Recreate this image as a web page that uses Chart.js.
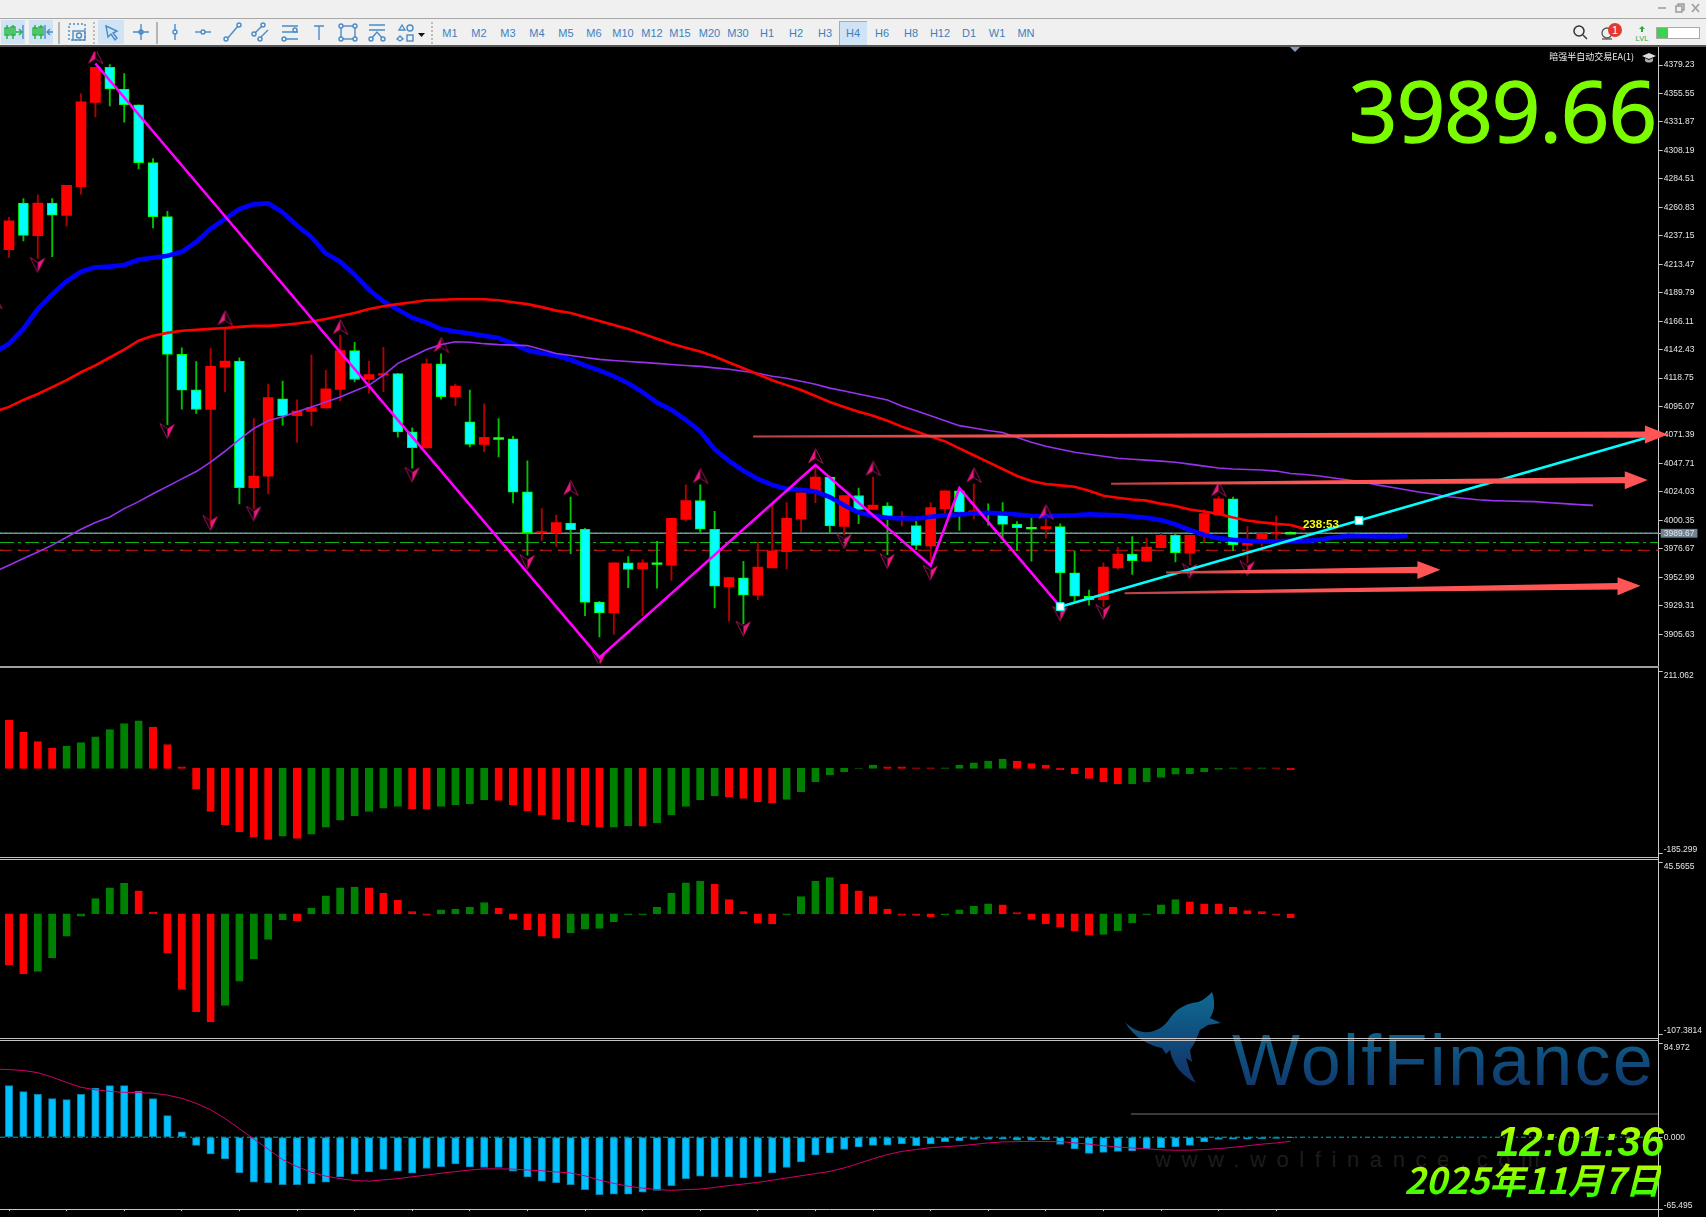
<!DOCTYPE html>
<html>
<head>
<meta charset="utf-8">
<title>XAUUSD H4</title>
<script src="https://cdn.jsdelivr.net/npm/chart.js@4"></script>
<style>
  html, body { margin: 0; padding: 0; background: #000; width: 1706px; height: 1217px; overflow: hidden; }
  body { position: relative; font-family: "Liberation Sans", sans-serif; }
  canvas.pane { position: absolute; left: 0; z-index: 3; }
  .abs { position: absolute; }
  #titlebar { left: 0; top: 0; width: 1706px; height: 18px; background: #f0f0f0; border-bottom: 1px solid #a8a8a8; }
  #toolbar { left: 0; top: 19px; width: 1706px; height: 26px; background: #f0f0f0; border-bottom: 2px solid #555; }
  .tf { position: absolute; top: 27px; width: 28px; text-align: center; color: #3d80bd; font-size: 11px; line-height: 13px; }
  .on { position: absolute; background: #cfe3f5; }
  .vsep { position: absolute; top: 22px; height: 22px; width: 2px; background: #b4b4b4; }
  .dsep { position: absolute; top: 22px; height: 22px; border-left: 2px dotted #bbb; }
  .hline { position: absolute; left: 0; width: 1659px; z-index: 4; }
  #bigprice { right: 50px; top: 60px; color: #7cfc00; font: 85px/98px "Open Sans", sans-serif; letter-spacing: -1px; z-index: 5;
    -webkit-text-stroke: 1.5px #7cfc00; paint-order: stroke; stroke-linejoin: round; }
  #ea { right: 72px; top: 51px; color: #eee; font: 9px/12px "Noto Sans CJK SC", sans-serif; z-index: 5; }
  #clock, #date { font-weight: bold; font-style: italic; z-index: 5; white-space: nowrap;
    background: linear-gradient(#d0ff00, #2cff00); -webkit-background-clip: text; background-clip: text; color: transparent; }
  #clock { right: 42px; top: 1121px; font: italic bold 42px/42px "Liberation Sans", sans-serif; }
  #date { right: 45px; top: 1158px; font: italic bold 36px/40px "Noto Sans CJK SC", sans-serif; }
  #wm { left: 1232px; top: 1020px; font: 72px/80px "Liberation Sans", sans-serif; letter-spacing: 2.2px; z-index: 1;
    background: linear-gradient(#0e6a92, #122f66); -webkit-background-clip: text; background-clip: text; color: transparent; }
  #wmurl { left: 1155px; top: 1148px; color: #1c1c1c; font: 22px/24px "Liberation Sans", sans-serif; letter-spacing: 10.6px; z-index: 1; white-space: nowrap; }
</style>
</head>
<body>
<div id="titlebar" class="abs"></div>
<div id="toolbar" class="abs"></div>

<svg class="abs" style="left:1655px;top:0;z-index:2" width="50" height="18" stroke="#9a9a9a" stroke-width="1.5" fill="none">
  <path d="M3 8h8"/><rect x="21" y="6" width="6" height="6"/><path d="M23 6V4h6v6h-2"/><path d="M37 4l7 8M44 4l-7 8"/>
</svg>

<div class="on" style="left:1px;top:20px;width:24px;height:24px"></div>
<div class="on" style="left:29px;top:20px;width:24px;height:24px"></div>
<div class="on" style="left:98px;top:20px;width:26px;height:24px"></div>
<div class="on" style="left:839px;top:21px;width:27px;height:23px;border-top:1px solid #aaa;border-left:1px solid #aaa"></div>
<div class="vsep" style="left:58px"></div>
<div class="dsep" style="left:93px"></div>
<div class="vsep" style="left:156px"></div>
<div class="dsep" style="left:431px"></div>

<svg class="abs" style="left:0;top:19px;z-index:2" width="440" height="27" fill="none" stroke="#4a8cc6" stroke-width="1.4">
  <g stroke="#1fb53a"><path d="M7 6v14M13 6v14"/><rect x="5" y="9" width="4" height="7"/><rect x="11" y="8" width="4" height="8"/><path d="M16 13h5M19 10l3 3-3 3"/></g>
  <path d="M23 6v14"/>
  <g stroke="#1fb53a"><path d="M35 6v14M41 6v14"/><rect x="33" y="9" width="4" height="7"/><rect x="39" y="8" width="4" height="8"/></g>
  <path d="M45 6v14M53 13h-6M50 10l-3 3 3 3"/>
  <rect x="69" y="5" width="16" height="16" stroke-dasharray="2 2"/><rect x="73" y="12" width="12" height="9"/><circle cx="79" cy="16.5" r="2.5"/>
  <path d="M106 7l11 5-4 2 4 5-2 2-4-6-3 3z"/>
  <path d="M133 13h16M141 5v16"/><circle cx="141" cy="13" r="2"/>
  <path d="M175 5v16"/><circle cx="175" cy="13" r="2" fill="#f0f0f0"/>
  <path d="M195 13h16"/><circle cx="203" cy="13" r="2" fill="#f0f0f0"/>
  <path d="M227 20l11-13"/><circle cx="226" cy="20" r="2" fill="#f0f0f0"/><circle cx="239" cy="6" r="2" fill="#f0f0f0"/>
  <path d="M254 15l9-9M258 21l10-10"/><circle cx="254" cy="15" r="2" fill="#f0f0f0"/><circle cx="263" cy="6" r="2" fill="#f0f0f0"/><circle cx="260" cy="20" r="2" fill="#f0f0f0"/>
  <path d="M282 7h16M282 13h16M282 20h16"/><circle cx="295" cy="11" r="2" fill="#f0f0f0"/><circle cx="284" cy="20" r="2" fill="#f0f0f0"/>
  <path d="M314 7h10M319 7v14"/>
  <rect x="341" y="7" width="14" height="13"/><circle cx="341" cy="7" r="2" fill="#f0f0f0"/><circle cx="355" cy="7" r="2" fill="#f0f0f0"/><circle cx="341" cy="20" r="2" fill="#f0f0f0"/><circle cx="355" cy="20" r="2" fill="#f0f0f0"/>
  <path d="M369 6h16M369 11h16M371 20l6-7 6 7"/><circle cx="371" cy="20" r="2" fill="#f0f0f0"/><circle cx="383" cy="20" r="2" fill="#f0f0f0"/>
  <path d="M399 11l3-5 3 5zM397 20l3-3 3 3-3 2z"/><circle cx="410" cy="9" r="3"/><rect x="407" y="16" width="6" height="6"/>
  <path d="M418 14h7l-3.5 4z" fill="#111" stroke="none"/>
</svg>

<svg class="abs" style="left:1570px;top:19px;z-index:2" width="136" height="27" fill="none">
  <circle cx="9" cy="12" r="5" stroke="#333" stroke-width="1.5"/><path d="M13 16l4 4" stroke="#333" stroke-width="1.5"/>
  <circle cx="37" cy="14" r="5" stroke="#555" stroke-width="1.3"/><path d="M32 20h10" stroke="#555" stroke-width="1.3"/>
  <circle cx="45" cy="11" r="7" fill="#e4392a"/>
  <text x="45" y="15" font-size="11" fill="#fff" text-anchor="middle" font-family="Liberation Sans">1</text>
  <path d="M72 7l3 3h-2v3h-2v-3h-2z" fill="#27a844"/>
  <text x="72" y="22" font-size="7.5" fill="#27a844" text-anchor="middle" font-family="Liberation Sans">LVL</text>
  <rect x="86.500" y="8.500" width="43" height="11" fill="#fff" stroke="#aaa"/><rect x="87" y="9" width="11" height="10" fill="#3ed151"/>
</svg>

<!-- watermark sits behind the transparent canvases -->
<svg class="abs" style="left:1120px;top:988px;z-index:1" width="110" height="104">
  <defs><linearGradient id="wing" x1="0" y1="0" x2="0" y2="1"><stop offset="0" stop-color="#0e6a92"/><stop offset="1" stop-color="#122f66"/></linearGradient></defs>
  <path fill="url(#wing)" d="M5 34C20 50 40 46 50 30C58 18 70 15 78 14C84 12 88 8 92 4C96 16 94 24 90 30L101 35L88 37L80 42L74 56L70 62L72 74L66 70L70 84L76 95C62 88 52 76 50 62L46 66L42 60C30 58 14 50 5 34Z"/>
</svg>
<div id="wm" class="abs">WolfFinance</div>
<div id="wmurl" class="abs">www.wolfinance.com</div>
<div class="abs" style="left:1131px;top:1113px;width:528px;height:2px;background:#3a3a3a;z-index:1"></div>

<div class="abs" style="left:1658px;top:47px;width:1px;height:1170px;background:#c8c8c8;z-index:2"></div>
<div class="abs" style="left:1290px;top:47px;width:0;height:0;border-left:5px solid transparent;border-right:5px solid transparent;border-top:5px solid #8a9bb0;z-index:5"></div>

<canvas class="pane" id="mainPane" width="1706" height="621" style="top:47px"></canvas>
<canvas class="pane" id="aoPane" width="1706" height="197" style="top:664px"></canvas>
<canvas class="pane" id="acPane" width="1706" height="187" style="top:855px"></canvas>
<canvas class="pane" id="macdPane" width="1706" height="181" style="top:1036px"></canvas>

<div class="hline" style="top:666px;height:2px;background:#a0a0a0"></div>
<div class="hline" style="top:857px;height:1px;background:#c4c4c4"></div>
<div class="hline" style="top:859px;height:1px;background:#c4c4c4"></div>
<div class="hline" style="top:1038px;height:1px;background:#c4c4c4"></div>
<div class="hline" style="top:1040px;height:1px;background:#c4c4c4"></div>

<div id="bigprice" class="abs">3989.66</div>
<div id="ea" class="abs">暗强半自动交易EA(1)</div>
<svg class="abs" style="left:1642px;top:52px;z-index:5" width="14" height="12"><path d="M0 4l7-3 7 3-7 3z" fill="#ddd"/><path d="M3 6v3c2 2 6 2 8 0V6l-4 2z" fill="#aaa"/></svg>
<div id="clock" class="abs">12:01:36</div>
<div id="date" class="abs">2025年11月7日</div>

<script>
// chart data. bar index 0 is the leftmost whole candle
const timeframes = ['M1','M2','M3','M4','M5','M6','M10','M12','M15','M20','M30','H1','H2','H3','H4','H6','H8','H12','D1','W1','MN'];
const timeframeCenters = [450,479,508,537,566,594,623,652,680,709.5,738,767,796,825,853,882,911,940,969,997,1026];

const opens = [4225.7,4264.3,4237.2,4264.3,4254.2,4278,4348.1,4377.4,4359.3,4346.2,4298,4253.1,4138.6,4109,4092.6,4127.9,4132.9,4027.5,4037.1,4101.6,4087.4,4091,4094,4109.4,4141.6,4117.6,4121.1,4122.5,4074,4060.6,4130.7,4103.3,4082.3,4063.6,4068.5,4068.3,4024.2,3989.9,3989.7,3998.1,3993,3932.4,3923.4,3965,3960.1,3964.4,3963.1,4001.2,4016.8,3993,3945.3,3952.5,3938.2,3960.9,3974.3,4001.4,4023.4,4036.5,3995.4,4021.1,4009.4,4012.4,4002,3996,3979.2,4010.2,4025,4006.9,4006.1,4004.7,3997.3,3994,3993.5,3995.2,3956.8,3937.3,3934.4,3960.9,3972.4,3966.4,3977.6,3988,3973.2,3987.4,4005,4018.4,3979.8,3984.7,3989.1,3989.66];
const highs = [4252.5,4268.2,4271.2,4268.2,4279.1,4355.2,4377.4,4379.6,4372.2,4346.2,4301.3,4257.5,4143.9,4132.4,4143.3,4160.8,4135.7,4085,4113.7,4116.2,4100.6,4138.1,4125.2,4154.8,4148.5,4132.9,4144.4,4122.7,4077.3,4134.8,4138.9,4113.7,4108.8,4097.3,4085,4070.4,4049.9,4010.2,4004.7,4019.8,3993.8,3933,3965,3970.2,3967.7,3982.9,4002,4029.9,4029.9,4008,3952.7,3966.4,3982.3,4012.4,4015.1,4023.4,4045.8,4036.5,4021.1,4027.2,4036.5,4015.1,4007.7,3999.5,4015.1,4025,4026.6,4030.7,4014.1,4015.1,3999.3,4004.2,4001.4,3997.6,3975.1,3942.3,3965,3978.2,3987,3985.6,3989.7,3989.7,3988,4009.4,4020.1,4019.8,3995.2,3989.7,4004.2,3990.9];
const lows = [4219.1,4232.8,4218.3,4219.7,4245.2,4271.7,4336.1,4345.1,4331.7,4292.8,4243.8,4080,4092.9,4089.3,3996.5,4107.4,4014.1,4010.2,4022.5,4079.5,4065.3,4079.2,4094,4099.8,4115.6,4106.1,4107.4,4069.6,4043.9,4060.6,4101.2,4095.9,4061.4,4057.6,4053.2,4014.9,3971.4,3983.7,3978.7,3972.7,3921.2,3903.4,3905.6,3944.5,3921.2,3943.9,3950.5,3999.8,3989.7,3927.5,3916.6,3914.3,3934.4,3960.9,3960.1,3991.1,4015.1,3990.2,3988.3,3997.6,4009.4,3971.8,3995.7,3976,3966.7,4006.1,3992.1,4001.4,3996.5,3985.6,3975.1,3966.4,3985.6,3931.3,3933,3929.9,3928.6,3959.5,3955.4,3966.4,3977.6,3965.8,3963.6,3982,4005,3975.1,3965,3979,3984.7,3989.66];
const closes = [4249.5,4237.5,4264.3,4254.4,4279.1,4348.7,4377.4,4359.3,4346.2,4298,4253.1,4138.4,4108.8,4092.6,4128.5,4132.9,4027.5,4037.3,4102.5,4087.4,4091.3,4094.2,4109.9,4141.6,4117.6,4121.7,4122.5,4074,4060.9,4130.7,4103.3,4112.1,4063.6,4069.4,4068.5,4023.9,3990.2,3991.1,3998.5,3992.7,3932.2,3923.4,3965,3959.5,3965,3964.4,4002,4016.8,3993,3945.6,3952.7,3938.2,3961.5,3975.1,4002,4023.4,4036.5,3995.7,4021.1,4009.6,4013.2,4004.2,4003.6,3979.6,4011,4025,4007.5,4008.3,4006.1,3997.1,3994.4,3994,3995.2,3956.6,3937.3,3934.4,3961.5,3972.4,3966.9,3978.2,3988,3973.5,3988,4006.1,4018.4,3980.1,3982.3,3989.7,3990.2,3989.66];

// moving averages start one bar left of the first candle, blue and purple run on past the last bar
const lineStartBar = -1;
const blueMa = [4140,4147.4,4159.7,4176.2,4188.5,4199.2,4207.4,4210.9,4211.5,4212.9,4217.2,4218.9,4220.5,4223.8,4232,4242.9,4251.2,4259.4,4263.5,4264.1,4256.7,4245.7,4236.1,4222.4,4215.6,4204.7,4192.3,4182.7,4175.9,4169,4164.9,4159.5,4157.5,4155.9,4154,4152.1,4147.4,4141.9,4139.4,4137.5,4134,4129.3,4125.2,4120.3,4114.5,4107.1,4098.4,4092.4,4084.1,4074.5,4059.5,4049.9,4041.7,4034.9,4029.9,4026.6,4025.8,4024.4,4019.8,4012.9,4006.9,4004.2,4002.6,4002,4002,4003.4,4004.7,4005.3,4006.1,4006.7,4006.1,4005.3,4004.2,4003.9,4004.2,4004.7,4005.5,4005,4004.7,4003.6,4002.6,4000.6,3997.1,3992.4,3988.3,3985.6,3984.2,3983.3,3982.9,3982.9,3983.3,3983.1,3984.2,3986.1,3987.5,3987.2,3987,3987,3987.2];
const redMa = [4090.7,4094.8,4100.6,4105.5,4111.3,4117,4123.6,4129.3,4135.9,4142.5,4149.9,4154,4156.4,4158.1,4158.9,4159.7,4160.5,4161.4,4162.2,4162.2,4163,4164.2,4165.9,4167.9,4170.4,4172.9,4176.2,4178.6,4180.3,4181.9,4183.5,4184,4184.4,4184.4,4184.4,4183.5,4181.9,4180.3,4177.8,4174.9,4172.9,4169.6,4166.3,4163,4159.7,4155.6,4151.5,4147.4,4144.1,4140.8,4136.7,4131.8,4126.9,4121.9,4117,4112.9,4108.8,4103.9,4098.9,4094.8,4090.7,4087.4,4083.3,4078.4,4074.3,4070.2,4066.1,4060.3,4054.6,4048.8,4043.1,4037.3,4033.2,4030.7,4029.5,4028.3,4025,4020.9,4019.2,4017.8,4016.8,4014.3,4012.3,4009.4,4007.7,4005.7,4002.8,4000.3,3998.7,3997.5,3996.6,3993.2];
const purpleMa = [3957.6,3963,3968.6,3974.1,3979.8,3986.4,3993,3998.7,4003.2,4010.2,4016,4022.5,4028.7,4034.9,4041,4048.8,4057.9,4067.7,4076.8,4083.3,4086.6,4090.7,4094.8,4098.9,4103,4108,4112.9,4121.1,4131,4136.7,4142.5,4146.6,4149,4148.6,4147.4,4146.6,4146.2,4145.8,4142.5,4139.2,4137.5,4135.9,4134.3,4133.4,4132.6,4131.8,4131,4130.1,4129.3,4128.5,4127.3,4126.1,4124.4,4122.8,4120.3,4118.6,4116.2,4113.7,4110.4,4108,4105.5,4103,4100.6,4095.6,4091.5,4087.4,4083.3,4079.2,4077.2,4075.1,4073.5,4069.4,4065.3,4062,4059.5,4057,4055.4,4053.8,4052.1,4051.3,4050.5,4049.7,4048.8,4047.2,4045.5,4043.9,4043.1,4042.7,4042.3,4041.4,4039.4,4038.5,4037.3,4035.7,4034,4032.4,4029.9,4027.9,4025.8,4023.8,4022.1,4020,4018.8,4017.6,4016.8,4016.5,4016.2,4016,4015.1,4014.3,4013.5,4012.9];

const zigzagBars = [6,41,56,64,66,73];
const zigzagPrices = [4380.5,3886.2,4046.4,3962.8,4027.2,3928.6];
const trendBars = [73,93.75,114];
const trendPrices = [3928.6,4000.3,4070.2];

const fractalUpBars = [-1,6,15,23,30,39,48,56,60,67,72,84];
const fractalUpPrices = [4182.7,4386.5,4169,4161.4,4146.6,4027.5,4037.6,4054,4043.6,4038.2,4007.5,4026.7];
const fractalDownBars = [2,11,14,17,28,36,41,51,58,61,64,73,76,82,86];
const fractalDownPrices = [4212.9,4074.6,3997.9,4006.1,4038.4,3965.6,3885.4,3910.3,3982.9,3966.4,3956.8,3922.6,3924,3958.2,3960.4];

const bidLevel = 3989.67;
const greenLevel = 3982;
const redLevel = 3975.5;
// forecast arrows: startBar, startPrice, endBar, endPrice
const forecastArrows = [
  [51.67,4070.2,115.2,4071.8],
  [76.53,4030.8,113.8,4034],
  [80.35,3957.1,99.4,3959.3],
  [77.47,3939.8,113.3,3945.9]
];
const timerText = '238:53';
const timerBar = 91.1;
const timerPrice = 3996.5;

const priceTicks = [4379.23,4355.55,4331.87,4308.19,4284.51,4260.83,4237.15,4213.47,4189.79,4166.11,4142.43,4118.75,4095.07,4071.39,4047.71,4024.03,4000.35,3976.67,3952.99,3929.31,3905.63,3989.67];
const aoValues = [105.8,79,58.5,44.4,48.7,56.4,69.1,84.6,98.1,103.7,90.3,52.2,3.5,-45.1,-93.8,-122.7,-138.3,-149.5,-155.2,-148.1,-153.1,-143.9,-128.4,-112.9,-103.7,-93.8,-86.8,-83.2,-88.2,-88.9,-83.2,-79,-76.9,-69.1,-69.8,-79,-92.4,-101.6,-111.5,-117.1,-122.7,-128.4,-128.4,-124.9,-126.3,-119.2,-101.6,-83.2,-69.1,-60,-62.1,-65.6,-73.4,-75.5,-67.7,-50.8,-29.6,-14.1,-7.1,0.7,7.1,3.5,3.5,1.4,1.4,1.4,7.1,12,16.2,20.5,16.2,10.6,7.1,-2.8,-11.3,-21.9,-29.6,-33.9,-33.9,-29.6,-19.8,-12.7,-11.3,-7.1,-2.1,1.4,1.4,1.4,1.4,-2.8];
const aoRising = [0,0,0,0,1,1,1,1,1,1,0,0,0,0,0,0,0,0,0,1,0,1,1,1,1,1,1,1,0,0,1,1,1,1,0,0,0,0,0,0,0,0,1,1,0,1,1,1,1,1,0,0,0,0,1,1,1,1,1,1,1,0,0,0,0,1,1,1,1,1,0,0,0,0,0,0,0,0,1,1,1,1,1,1,1,1,0,1,0,0];
const acValues = [-45.5,-53.6,-51.3,-39.4,-20,-2,13.6,23.2,27.2,20.6,1.4,-34.8,-67.5,-87.2,-96.5,-81.7,-60,-40.3,-22.9,-5.2,-6.1,5.2,16.2,23.2,24,23.2,18.5,12.2,2,-1.2,3.5,4.3,5.8,10.1,5.2,-4.9,-14.2,-20,-21.7,-16.8,-13.6,-13,-7.2,-0.9,-0.9,5.8,18.5,27.8,29.3,26.4,12.7,2,-8.1,-9,-0.9,15.4,29.3,32.4,26.4,20.6,15.4,4.3,-1.2,-1.4,-2.6,-0.9,3.5,6.7,9,8.1,1.2,-4.9,-9,-11.9,-15.1,-19.1,-18.3,-15.1,-8.1,-0.9,8.1,12.7,10.7,9,9,5.8,2.9,2,-1.2,-3.5];
const acRising = [0,0,1,1,1,1,1,1,1,0,0,0,0,0,0,1,1,1,1,1,0,1,1,1,1,0,0,0,0,0,1,1,1,1,0,0,0,0,0,1,1,1,1,1,1,1,1,1,1,0,0,0,0,0,1,1,1,1,0,0,0,0,0,0,0,1,1,1,1,0,0,0,0,0,0,0,1,1,1,1,1,1,0,0,0,0,0,0,0,0];
const macdValues = [46.9,41.4,39.1,35.1,34.2,39.1,44.6,46.9,46.9,42,35.1,19.6,4.9,-7.5,-15.2,-19.8,-32.2,-40.8,-41.4,-43.1,-43.1,-42.3,-40.8,-36.2,-33.6,-31.6,-29.3,-30.8,-32.8,-28.5,-26.7,-24.4,-27,-27.6,-27.6,-30.8,-36.2,-40,-41.4,-43.1,-47.7,-52.3,-51.8,-51.8,-50,-48.3,-44,-37.7,-35.4,-36.2,-36.2,-37.1,-36,-32.5,-27.6,-22.4,-16.1,-14.4,-11.2,-8.9,-7.5,-7.2,-6,-7.8,-6,-4,-3.2,-2,-1.7,-1.7,-2.6,-2.6,-2.3,-6.6,-10.6,-14.7,-13.8,-12.9,-12.4,-10.6,-9.5,-8.6,-7.5,-4.3,-2,-1.7,-1.7,-1.4,-1.2,-0.6];
const macdSignal = [62.1,61.5,60.7,58.7,54.6,49.8,45.4,43.1,41.7,40.8,40.6,40,38.3,35.4,30.8,25,17,7.8,-1.7,-10.9,-20.4,-26.7,-31.9,-35.4,-37.7,-39.4,-40,-38.8,-37.7,-36,-34.5,-32.8,-31.3,-29.9,-28.8,-28.8,-29,-29.9,-30.5,-31.6,-32.5,-35.1,-39.1,-42,-44.6,-46.3,-47.7,-48.3,-47.7,-47.2,-45.7,-44,-42.6,-41.1,-39.1,-37.1,-35.1,-33.1,-31.1,-27.9,-23.9,-19.6,-15.8,-12.9,-11.2,-9.5,-8.6,-7.8,-6.6,-5.2,-4.3,-4,-3.7,-4,-4,-5.2,-6.3,-7.8,-8.9,-9.8,-10.6,-11.5,-11.8,-11.8,-11.2,-10.4,-9.2,-7.8,-6.3,-5.2,-3.7];
const timeTickBars = [2,6,10,14,18,22,26,30,34,38,42,46,50,54,58,62,66,70,74,78,82,86];

timeframes.forEach((name, i) => {
  const el = document.createElement('div');
  el.className = 'tf';
  el.textContent = name;
  el.style.left = (timeframeCenters[i] - 14) + 'px';
  document.body.appendChild(el);
});

const CANDLE_UP = '#ff0000', CANDLE_DOWN = '#00ffff', CANDLE_EDGE = '#00ff00';
const FONT = { family: '"Liberation Sans", sans-serif', size: 8.5, lineHeight: 0.8 };

function fractalIcon(flip) {
  const c = document.createElement('canvas');
  c.width = 17; c.height = 16;
  const g = c.getContext('2d');
  if (flip) { g.translate(17, 16); g.rotate(Math.PI); }
  g.fillStyle = '#e8197f';
  g.beginPath(); g.moveTo(8.5, 0.5); g.lineTo(8.5, 10.5); g.lineTo(1, 15.5); g.closePath(); g.fill();
  g.strokeStyle = '#a0125c';
  g.lineWidth = 1;
  g.beginPath(); g.moveTo(8.5, 0.5); g.lineTo(16, 15.5); g.lineTo(8.5, 10.5); g.stroke();
  return c;
}

function pts(values, start) {
  return values.map((y, i) => ({ x: i + start, y }));
}

function paneOptions(min, max, ticks, pad, labelFor) {
  return {
    responsive: false,
    animation: false,
    events: [],
    // autoPadding would push the plot in by the fractal icon radius
    layout: { autoPadding: false, padding: { top: pad.top, bottom: pad.bottom, left: 0, right: 0 } },
    plugins: { legend: { display: false }, tooltip: { enabled: false } },
    scales: {
      x: { type: 'linear', display: false, offset: false, min: -0.625, max: 114.56, grid: { display: false } },
      y: {
        position: 'right', min, max,
        afterFit: s => { s.width = 47.3; },
        afterBuildTicks: s => { s.ticks = ticks.map(value => ({ value })); },
        border: { display: false },
        grid: { drawOnChartArea: false, color: '#c8c8c8', tickLength: 4 },
        ticks: {
          autoSkip: false, color: '#e4e4e4', font: FONT, padding: 1,
          callback: labelFor
        }
      }
    }
  };
}

function histogram(values, colors, edge) {
  return {
    type: 'bar', data: pts(values, 0), backgroundColor: colors, borderColor: edge,
    borderWidth: 1, barThickness: 7.4, grouped: false, order: 5, borderSkipped: false
  };
}

// forecast arrows and the countdown are not datasets, they still go through the scales
const overlay = {
  id: 'overlay',
  afterDatasetsDraw(chart) {
    const { x, y } = chart.scales, g = chart.ctx;
    g.save();
    forecastArrows.forEach(([b0, p0, b1, p1]) => {
      const x0 = x.getPixelForValue(b0), y0 = y.getPixelForValue(p0);
      const x1 = x.getPixelForValue(b1), y1 = y.getPixelForValue(p1);
      const hx = x1 - 23, hy = y1 + (y0 - y1) * 23 / (x1 - x0);
      const grad = g.createLinearGradient(x0, 0, x1, 0);
      grad.addColorStop(0, '#b84343');
      grad.addColorStop(0.35, '#ff5555');
      g.fillStyle = grad;
      g.beginPath();
      g.moveTo(x0, y0 - 1);
      g.lineTo(hx, hy - 3.2);
      g.lineTo(hx, hy - 9);
      g.lineTo(x1, y1);
      g.lineTo(hx, hy + 9);
      g.lineTo(hx, hy + 3.2);
      g.lineTo(x0, y0 + 1);
      g.closePath();
      g.fill();
    });
    g.fillStyle = '#ffff00';
    g.font = 'bold 11.5px "Liberation Sans", sans-serif';
    g.textAlign = 'center';
    g.textBaseline = 'middle';
    g.fillText(timerText, x.getPixelForValue(timerBar), y.getPixelForValue(timerPrice));
    g.restore();
  }
};

const bars = opens.map((o, i) => i);
const upBars = bars.filter(i => closes[i] > opens[i]);
const downBars = bars.filter(i => closes[i] < opens[i]);
const dojiBars = bars.filter(i => closes[i] === opens[i]);

const mainOpts = paneOptions(3881.23, 4390.56, priceTicks, { top: 0, bottom: 1 }, v => v.toFixed(2));
mainOpts.scales.y.ticks.showLabelBackdrop = c => c.tick && c.tick.value === bidLevel;
mainOpts.scales.y.ticks.backdropColor = '#6f8296';
mainOpts.scales.y.ticks.backdropPadding = { x: 3, y: 1 };

function level(price, color, dash, width, order) {
  return {
    type: 'line', data: [{ x: -0.625, y: price }, { x: 114.56, y: price }], borderColor: color,
    borderWidth: width || 1, borderDash: dash, pointRadius: 0, order: order || 30
  };
}

new Chart(document.getElementById('mainPane'), {
  data: {
    datasets: [
      // squares at the trend line anchors
      { type: 'scatter', data: trendBars.slice(0, 2).map((b, i) => ({ x: b, y: trendPrices[i] })), pointStyle: 'rect',
        pointRadius: 5.5, pointBackgroundColor: '#ffffff', pointBorderColor: '#00ffff', pointBorderWidth: 1, order: 0 },
      { type: 'line', data: trendBars.map((b, i) => ({ x: b, y: trendPrices[i] })), borderColor: '#00ffff', borderWidth: 2.6, pointRadius: 0, order: 1 },
      { type: 'scatter', data: fractalUpBars.map((b, i) => ({ x: b, y: fractalUpPrices[i] })), pointStyle: fractalIcon(false), pointRadius: 8, clip: 0, order: 3 },
      { type: 'scatter', data: fractalDownBars.map((b, i) => ({ x: b, y: fractalDownPrices[i] })), pointStyle: fractalIcon(true), pointRadius: 8, clip: 0, order: 3 },
      { type: 'line', data: zigzagBars.map((b, i) => ({ x: b, y: zigzagPrices[i] })), borderColor: '#ff00ff', borderWidth: 2.6, pointRadius: 0, order: 2 },
      { type: 'line', data: pts(redMa, lineStartBar), borderColor: '#ff0000', borderWidth: 2.6, pointRadius: 0, order: 4 },
      { type: 'line', data: pts(purpleMa, lineStartBar), borderColor: '#9932f0', borderWidth: 1.6, pointRadius: 0, order: 4 },
      { type: 'line', data: pts(blueMa, lineStartBar), borderColor: '#0000ff', borderWidth: 4.6, pointRadius: 0, borderCapStyle: 'round', order: 5 },

      { type: 'bar', data: upBars.map(i => ({ x: i, y: [opens[i], closes[i]] })), backgroundColor: CANDLE_UP, barThickness: 10, grouped: false, order: 10 },
      { type: 'bar', data: downBars.map(i => ({ x: i, y: [opens[i], closes[i]] })), backgroundColor: CANDLE_DOWN, borderColor: CANDLE_EDGE, borderWidth: 1, borderSkipped: false, barThickness: 10, grouped: false, order: 10 },
      { type: 'bar', data: dojiBars.map(i => ({ x: i, y: [opens[i] - 0.7, opens[i] + 0.7] })), backgroundColor: '#22ff22', barThickness: 10, grouped: false, order: 10 },
      { type: 'bar', data: upBars.map(i => ({ x: i, y: [lows[i], highs[i]] })), backgroundColor: '#b00000', barThickness: 1.2, grouped: false, order: 11 },
      { type: 'bar', data: downBars.concat(dojiBars).map(i => ({ x: i, y: [lows[i], highs[i]] })), backgroundColor: '#00c400', barThickness: 1.2, grouped: false, order: 11 },

      level(bidLevel, '#778899', [], 1.4, 21),
      level(bidLevel, '#22dd22', [2, 3], 1, 20),
      level(greenLevel, '#10b810', [14, 4, 3, 4]),
      level(redLevel, '#d81010', [12, 6]),
      level(redLevel, '#10a010', [3, 15])
    ]
  },
  options: mainOpts,
  plugins: [overlay]
});

const redGreen = flags => flags.map(f => f ? '#008000' : '#ff0000');

const aoTicks = [211.062, -185.299];
new Chart(document.getElementById('aoPane'), {
  data: { datasets: [histogram(aoValues, redGreen(aoRising), redGreen(aoRising))] },
  options: paneOptions(-185.299, 211.062, aoTicks, { top: 4.7, bottom: 5 },
    v => v > 0 ? ['', v.toFixed(3)] : [v.toFixed(3), ''])
});

const acTicks = [45.5655, -107.3814];
new Chart(document.getElementById('acPane'), {
  data: { datasets: [histogram(acValues, redGreen(acRising), redGreen(acRising))] },
  options: paneOptions(-107.3814, 45.5655, acTicks, { top: 4.3, bottom: 6.7 },
    v => v > 0 ? ['', v.toFixed(4)] : [v.toFixed(4), ''])
});

const macdTicks = [84.972, 0, -65.495];
const macdOpts = paneOptions(-65.495, 84.972, macdTicks, { top: 5, bottom: 0 },
  v => v > 0 ? ['', v.toFixed(3)] : v < 0 ? [v.toFixed(3), ''] : v.toFixed(3));
macdOpts.scales.x = {
  type: 'linear', display: true, offset: false, min: -0.625, max: 114.56, position: 'bottom',
  afterFit: s => { s.height = 2.5; },
  afterBuildTicks: s => { s.ticks = timeTickBars.map(value => ({ value })); },
  border: { color: '#c8c8c8' },
  grid: { drawOnChartArea: false, color: '#c8c8c8', tickLength: 2 },
  ticks: { display: false }
};
new Chart(document.getElementById('macdPane'), {
  data: {
    datasets: [
      { type: 'line', data: pts(macdSignal, lineStartBar), borderColor: '#d1006b', borderWidth: 1, pointRadius: 0, order: 1 },
      level(0, '#00b0b0', [5, 3, 2, 3], 1, 2),
      histogram(macdValues, '#00bfff', '#0e7fa8')
    ]
  },
  options: macdOpts
});
</script>
</body>
</html>
